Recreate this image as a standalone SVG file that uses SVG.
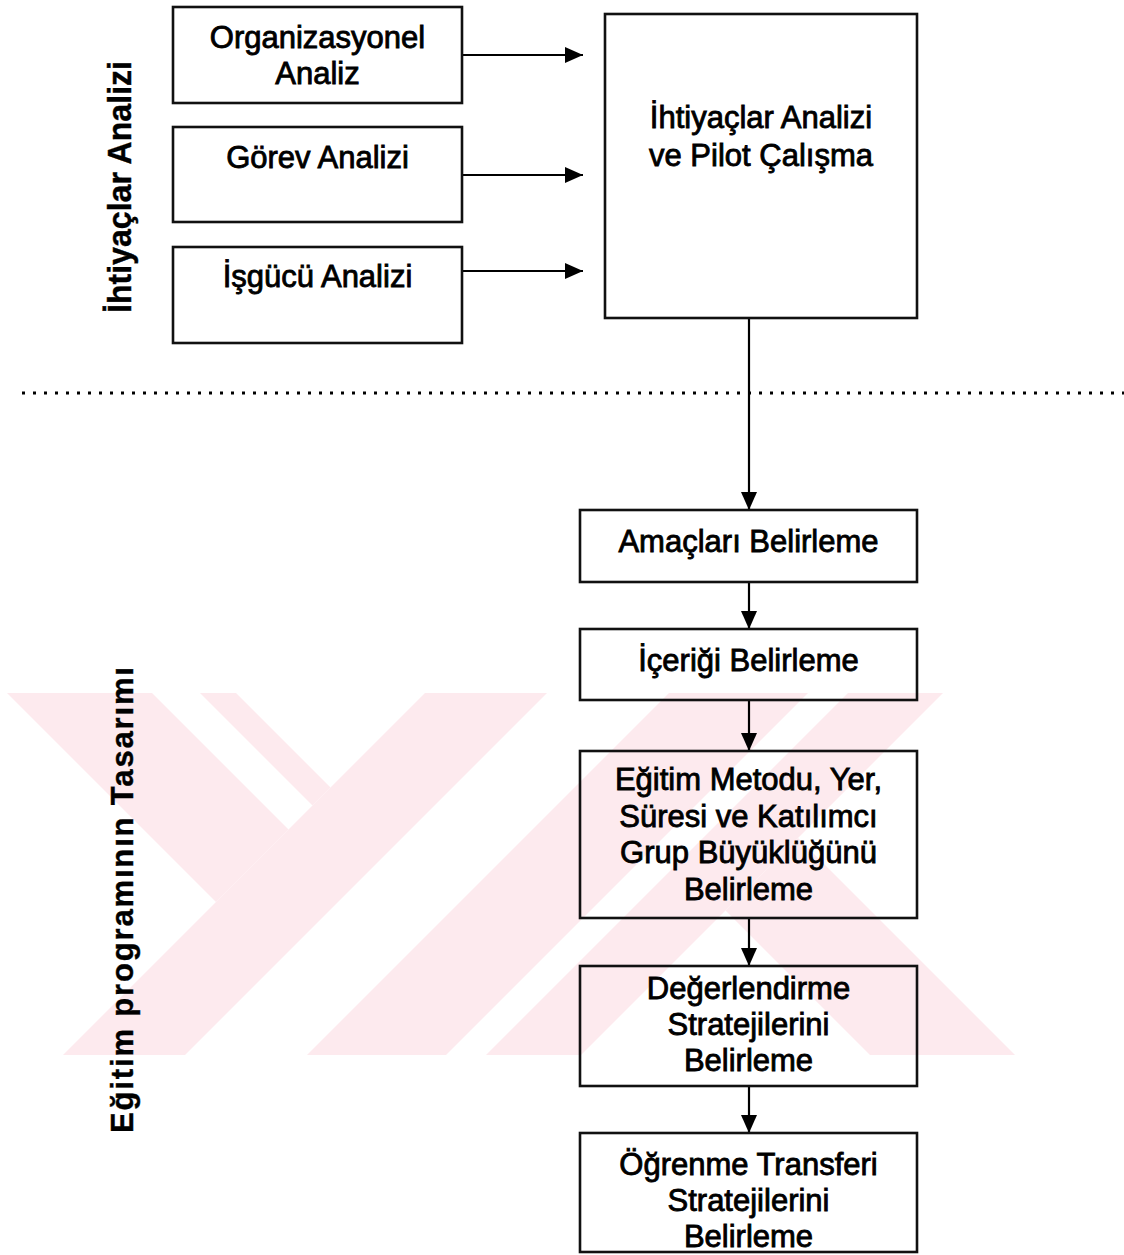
<svg xmlns="http://www.w3.org/2000/svg" width="1124" height="1255" viewBox="0 0 1124 1255">
  <defs>
    <style>
      .box { fill: none; stroke: #111; stroke-width: 2.6; }
      .lbl { font-family: "Liberation Sans", Arial, sans-serif; font-size: 31px; fill: #000; stroke: #000; stroke-width: 0.85; text-anchor: middle; }
      .side { font-family: "Liberation Sans", Arial, sans-serif; font-weight: bold; fill: #000; stroke: #000; stroke-width: 0.4; text-anchor: middle; }
      .link { fill: none; stroke: #000; stroke-width: 2.2; }
      .divider { fill: none; stroke: #000; stroke-width: 3; stroke-dasharray: 3 8; }
      .wm { fill: #fdeaee; }
    </style>
    <marker id="ah" viewBox="0 0 18 16" markerWidth="18" markerHeight="16" refX="18" refY="8" orient="auto" markerUnits="userSpaceOnUse">
      <path d="M0,0 L18,8 L0,16 z" fill="#000"/>
    </marker>
  </defs>

  <rect width="1124" height="1255" fill="#fff"/>

  <!-- faint background emblem -->
  <g id="emblem">
    <polygon class="wm" points="7,693 152,693 288.5,829.5 216,902"/>
    <polygon class="wm" points="200,693 236,693 330.5,787.5 312.5,805.5"/>
    <polygon class="wm" points="425,693 547,693 185,1055 63,1055"/>
    <polygon class="wm" points="669,693 808,693 446,1055 307,1055"/>
    <polygon class="wm" points="848,693 943,693 581,1055 486,1055"/>
    <polygon class="wm" points="798,838 1015,1055 870,1055 725.5,910.5"/>
  </g>

  <!-- section titles -->
  <text class="side" font-size="33" textLength="252" lengthAdjust="spacingAndGlyphs" transform="translate(131,187) rotate(-90)">İhtiyaçlar Analizi</text>
  <text class="side" font-size="31" textLength="466" lengthAdjust="spacing" transform="translate(133,900) rotate(-90)">Eğitim programının Tasarımı</text>

  <!-- section divider -->
  <line class="divider" x1="22" y1="393" x2="1124" y2="393"/>

  <!-- connectors -->
  <g id="connectors">
    <line class="link" x1="462" y1="55" x2="583" y2="55" marker-end="url(#ah)"/>
    <line class="link" x1="462" y1="175" x2="583" y2="175" marker-end="url(#ah)"/>
    <line class="link" x1="462" y1="271" x2="583" y2="271" marker-end="url(#ah)"/>
    <line class="link" x1="749" y1="318" x2="749" y2="510" marker-end="url(#ah)"/>
    <line class="link" x1="749" y1="582" x2="749" y2="629" marker-end="url(#ah)"/>
    <line class="link" x1="749" y1="700" x2="749" y2="751" marker-end="url(#ah)"/>
    <line class="link" x1="749" y1="918" x2="749" y2="966" marker-end="url(#ah)"/>
    <line class="link" x1="749" y1="1086" x2="749" y2="1133" marker-end="url(#ah)"/>
  </g>

  <g id="organizasyonel">
    <rect class="box" x="173" y="7" width="289" height="96"/>
    <text class="lbl" x="317.5" y="48">Organizasyonel</text>
    <text class="lbl" x="317.5" y="84">Analiz</text>
  </g>

  <g id="gorev">
    <rect class="box" x="173" y="127" width="289" height="95"/>
    <text class="lbl" x="317.5" y="168">Görev Analizi</text>
  </g>

  <g id="isgucu">
    <rect class="box" x="173" y="247" width="289" height="96"/>
    <text class="lbl" x="317.5" y="287">İşgücü Analizi</text>
  </g>

  <g id="ihtiyaclar">
    <rect class="box" x="605" y="14" width="312" height="304"/>
    <text class="lbl" x="761" y="128">İhtiyaçlar Analizi</text>
    <text class="lbl" x="761" y="166">ve Pilot Çalışma</text>
  </g>

  <g id="amaclar">
    <rect class="box" x="580" y="510" width="337" height="72"/>
    <text class="lbl" x="748.5" y="552">Amaçları Belirleme</text>
  </g>

  <g id="icerik">
    <rect class="box" x="580" y="629" width="337" height="71"/>
    <text class="lbl" x="748.5" y="671">İçeriği Belirleme</text>
  </g>

  <g id="metot">
    <rect class="box" x="580" y="751" width="337" height="167"/>
    <text class="lbl" x="748.5" y="790">Eğitim Metodu, Yer,</text>
    <text class="lbl" x="748.5" y="827">Süresi ve Katılımcı</text>
    <text class="lbl" x="748.5" y="863">Grup Büyüklüğünü</text>
    <text class="lbl" x="748.5" y="900">Belirleme</text>
  </g>

  <g id="degerlendirme">
    <rect class="box" x="580" y="966" width="337" height="120"/>
    <text class="lbl" x="748.5" y="999">Değerlendirme</text>
    <text class="lbl" x="748.5" y="1035">Stratejilerini</text>
    <text class="lbl" x="748.5" y="1071">Belirleme</text>
  </g>

  <g id="transfer">
    <rect class="box" x="580" y="1133" width="337" height="119"/>
    <text class="lbl" x="748.5" y="1175">Öğrenme Transferi</text>
    <text class="lbl" x="748.5" y="1211">Stratejilerini</text>
    <text class="lbl" x="748.5" y="1247">Belirleme</text>
  </g>
</svg>
